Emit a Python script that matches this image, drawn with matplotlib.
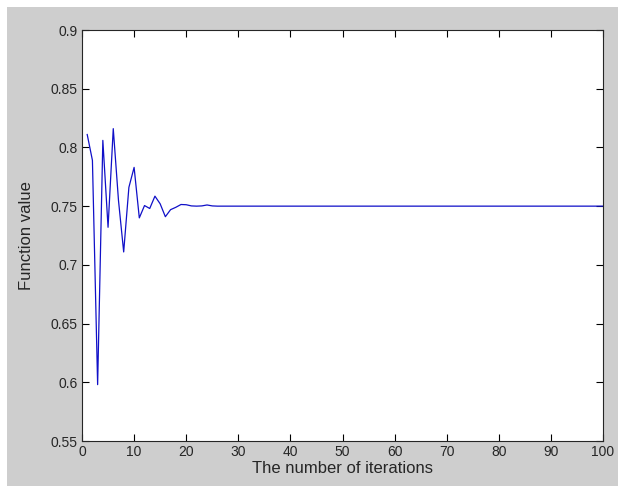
import matplotlib
matplotlib.use("Agg")
import matplotlib.pyplot as plt
from matplotlib.patches import Rectangle
from matplotlib.ticker import FormatStrFormatter

plt.rcParams["font.family"] = ["Liberation Sans", "DejaVu Sans"]

# values, iteration 1..100
iterations = list(range(1, 101))
early_values = [
    0.811, 0.789, 0.598, 0.806, 0.732, 0.816, 0.755, 0.711, 0.766, 0.783,
    0.740, 0.7505, 0.748, 0.7585, 0.752, 0.741, 0.747, 0.749, 0.7514, 0.7512,
    0.7502, 0.750, 0.7502, 0.751, 0.7502,
]
settled_values = [0.75] * 75
function_value = early_values + settled_values

x_ticks = [0, 10, 20, 30, 40, 50, 60, 70, 80, 90, 100]
y_ticks = [0.55, 0.6, 0.65, 0.7, 0.75, 0.8, 0.85, 0.9]

W, H = 618, 486
fig = plt.figure(figsize=(W / 100, H / 100), dpi=100, facecolor="white")
# matlab-ish grey window behind the axes, white strip top and left
fig.patches.append(Rectangle((7 / W, 0), 1, 1 - 7 / H, transform=fig.transFigure,
                             facecolor="#cecece", edgecolor="none", zorder=-10))

ax = fig.add_axes([82 / W, (H - 441) / H, 521 / W, 411 / H])
ax.set_facecolor("white")
ax.plot(iterations, function_value, color="#1010c8", linewidth=0.9)

ax.set_xlim(0, 100)
ax.set_ylim(0.55, 0.9)
ax.set_xticks(x_ticks)
ax.set_yticks(y_ticks)
ax.yaxis.set_major_formatter(FormatStrFormatter("%g"))
ax.tick_params(direction="in", length=5, width=0.8, top=True, right=True,
               labelsize=10, labelcolor="#262626", pad=3)
for s in ax.spines.values():
    s.set_linewidth(0.8)
    s.set_color("#262626")

ax.set_xlabel("The number of iterations", fontsize=12, color="#262626", labelpad=1)
ax.set_ylabel("Function value", fontsize=12, color="#262626", labelpad=12)

fig.savefig("out.png", dpi=100, facecolor=fig.get_facecolor())
